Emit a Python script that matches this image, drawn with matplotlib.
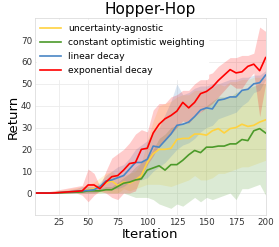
import numpy as np
import matplotlib
matplotlib.use("Agg")
import matplotlib.pyplot as plt

# iterations 5, 10, ..., 200
iters = np.arange(5, 201, 5)

# uncertainty-agnostic
agn_mean = [0, 0, 0, 0, 0.2, 0.3, 0.5, 0.7, 1, 1.5, 2, 3, 4.5, 5.5, 3.5, 5,
            4.5, 6, 8, 14, 18, 20, 20, 20.5, 24.5, 25, 25, 27, 27, 26.5,
            28.5, 29.5, 27.5, 29.5, 30, 31.5, 30.5, 31, 32.5, 33.5]
agn_lo = [0, 0, 0, 0, 0, 0, 0, 0, 0, 0, 0, 0, 0.5, 0, 0, 2,
          1, 2, 3, 4, 4, 4, 3.5, 3, 4, 5, 6, 8, 6, 6,
          7, 9, 9, 10, 11, 12, 12, 13, 14, 15]
agn_hi = [0.5, 0.5, 0.5, 0.8, 1, 1.5, 2, 2.5, 3, 4, 5, 7, 9, 10, 8, 8,
          9, 10, 14, 24, 33, 40, 41, 42, 44, 45, 45, 47, 47, 47,
          48, 50, 49, 51, 51, 52, 52, 53, 53, 52]

# constant optimistic weighting
cow_mean = [0, 0, 0, 0, 0.1, 0.2, 0.3, 0.4, 0.5, 1, 1, 1, 1.5, 1.5, 3, 4.5,
            5, 6, 6.5, 10.5, 11.5, 12.5, 10.5, 13, 13, 15, 17.5, 19.5, 18.5, 21,
            21, 21.5, 21.5, 22.5, 22.5, 24.5, 24, 28.5, 29.5, 27.5]
cow_lo = [0, 0, 0, 0, 0, 0, 0, 0, 0, 0, 0, 0, 0, 0, 0, 0,
          -1, -2, -2, -2, -3, -5, -6, -7, -5, -6, -4, -2, -4, -2,
          -3, -2, -1, 0, -3, 2, 2, 3, 4, -1]
cow_hi = [0.3, 0.3, 0.3, 0.3, 0.5, 0.6, 0.8, 1, 1.5, 2, 2, 2, 3, 3, 5, 7,
          9, 12, 14, 16, 20, 25, 27, 30, 31, 32, 33, 35, 37, 40,
          42, 44, 44, 44, 46, 47, 48, 49, 50, 50]

# linear decay
lin_mean = [0, 0, 0, 0, 0.2, 0.4, 0.6, 0.8, 1, 1.2, 1.5, 3, 5.5, 6, 7, 8,
            11, 14, 14, 15.5, 21.5, 21, 24, 27, 31, 31.5, 32.5, 35, 38, 39,
            38.5, 42.5, 43, 44, 44, 47, 47.5, 50, 50.5, 54]
lin_lo = [0, 0, 0, 0, 0, 0, 0, 0, 0, 0, 0, 1, 2, 2, 2, 3,
          5, 6, 6, 7, 10, 12, 14, 17, 20, 22, 23, 25, 28, 30,
          31, 34, 35, 36, 37, 40, 42, 46, 47, 52]
lin_hi = [0.3, 0.3, 0.5, 0.5, 0.8, 1, 1.5, 2, 3, 3, 3, 5, 8, 10, 12, 13,
          16, 20, 22, 24, 28, 30, 36, 42, 50, 45, 46, 48, 49, 49,
          50, 50, 51, 52, 52, 53, 53, 54, 54, 56]

# exponential decay
exp_mean = [0, 0, 0, 0, 0.2, 0.4, 0.6, 0.8, 1, 3.7, 3.7, 2, 5, 7.5, 8, 10.5,
            13.5, 14, 20, 20.5, 27.5, 31.5, 34, 35.5, 37.5, 41.5, 39, 41.5, 45.5, 46.5,
            48.5, 51.5, 54, 56.5, 55, 55.5, 58, 59, 56, 62]
exp_lo = [0, 0, 0, 0, 0, 0, 0, 0, -1, -4, -1, 1, 0, -2, -3, 0,
          0, 1, 8, 13, 17, 22, 24, 27, 30, 33, 32, 35, 37, 39,
          41, 44, 47, 50, 48, 48, 52, 55, 35, 50]
exp_hi = [0.5, 0.5, 0.5, 1, 1.5, 2, 2.5, 3, 3.5, 11, 9, 3, 10, 16, 18, 20,
          23, 27, 29, 28, 38, 41, 41, 44, 45, 47, 47, 50, 52, 54,
          55, 58, 60, 62, 62, 63, 63, 64, 76, 74]

series = [
    ("uncertainty-agnostic", agn_mean, agn_lo, agn_hi, "#ffd23f"),
    ("constant optimistic weighting", cow_mean, cow_lo, cow_hi, "#4c9a2a"),
    ("linear decay", lin_mean, lin_lo, lin_hi, "#4a86c5"),
    ("exponential decay", exp_mean, exp_lo, exp_hi, "#ff0000"),
]

fig = plt.figure(figsize=(2.79, 2.47), dpi=100)
ax = fig.add_axes([0.125, 0.13, 0.827, 0.796])

for name, m, lo, hi, c in series:
    ax.fill_between(iters, lo, hi, color=c, alpha=0.2, linewidth=0)
    ax.plot(iters, m, color=c, linewidth=1.2, label=name)

ax.set_xlim(5, 200)
ax.set_ylim(-10, 80)
ax.set_xticks(np.arange(25, 201, 25))
ax.set_yticks(np.arange(0, 71, 10))
ax.tick_params(labelsize=6.3, length=0, pad=2, colors="#333333")
ax.grid(True, color="#ebebeb", linewidth=0.6)
ax.set_axisbelow(True)
for s in ax.spines.values():
    s.set_color("#dddddd")
    s.set_linewidth(0.6)

ax.set_title("Hopper-Hop", fontsize=11, pad=3)
ax.set_xlabel("Iteration", fontsize=9.5, labelpad=1)
ax.set_ylabel("Return", fontsize=9.5, labelpad=1)
leg = ax.legend(loc="upper left", fontsize=6.6, frameon=True, framealpha=1,
                edgecolor="white", handlelength=2.2, borderaxespad=0.2,
                labelspacing=0.55)

fig.savefig("out.png", dpi=100)
